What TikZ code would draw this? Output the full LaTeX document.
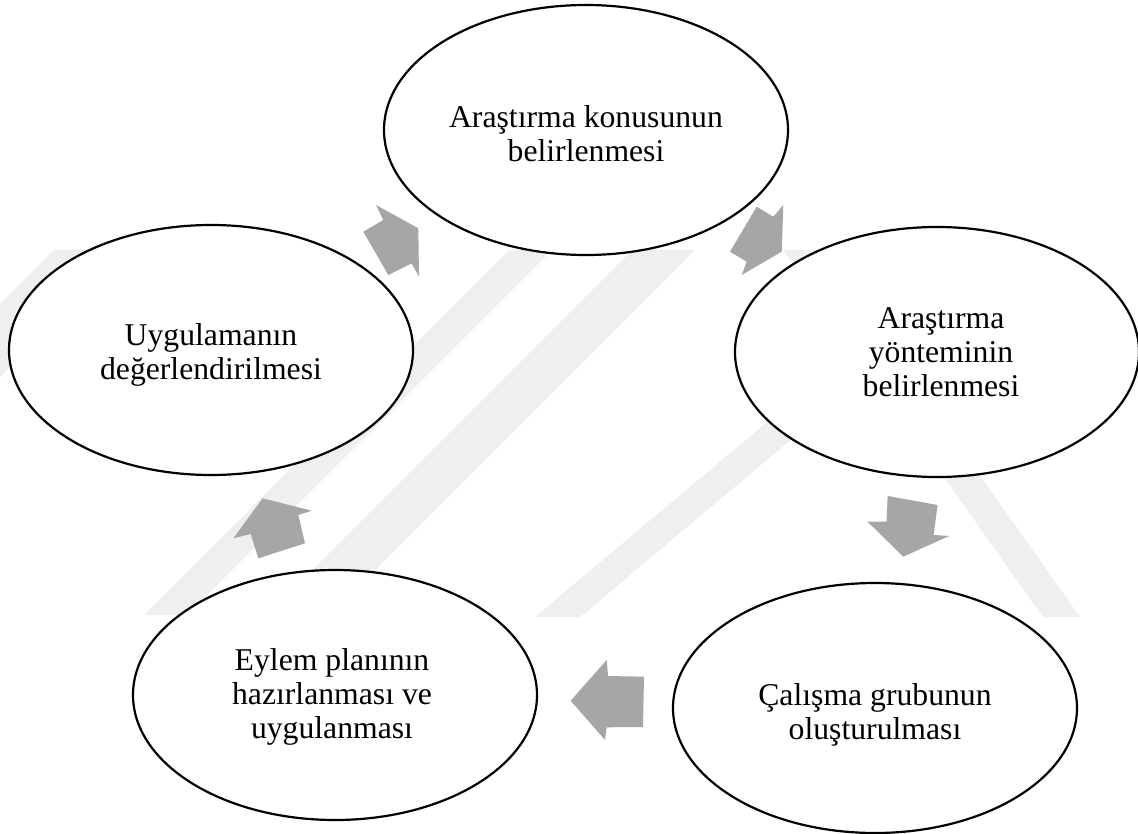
\documentclass[tikz,border=0pt]{standalone}
\usepackage{fontspec}
\setmainfont{Liberation Serif}
\usetikzlibrary{shapes.geometric}
\definecolor{arrowgray}{RGB}{166,166,166}
\definecolor{wmark}{RGB}{239,239,239}
\tikzset{
  ell/.style={ellipse, draw=black, line width=2.2pt, fill=white, minimum width=404pt, minimum height=250pt, inner sep=0pt},
  txt/.style={align=center, inner sep=0pt, font=\fontsize{31.7}{34}\selectfont},
  blockarrow/.style={fill=arrowgray, draw=none},
  wm/.style={fill=wmark, draw=none}
}
\begin{document}
\begin{tikzpicture}[x=1pt,y=-1pt]
\useasboundingbox (0,0) rectangle (1138,834);
\fill[white] (0,0) rectangle (1138,834);
% watermark (faint)
\begin{scope}
\clip (0,0) rectangle (1138,834);
\fill[wm] (54,250) -- (127,250) -- (-238,615) -- (-311,615) -- cycle;
\fill[wm] (509,250) -- (552,250) -- (187,615) -- (144,615) -- cycle;
\fill[wm] (632,250) -- (695,250) -- (330,615) -- (267,615) -- cycle;
\fill[wm] (972,250) -- (1017,250) -- (580,617) -- (535,617) -- cycle;
\fill[wm] (783,250) -- (820,250) -- (1080,617) -- (1043,617) -- cycle;
\end{scope}
% block arrows
\fill[blockarrow] (376,205) -- (383.3,220) -- (363.3,231.7) -- (388.3,275) -- (411.7,263.3) -- (419,276.7) -- (418.3,228.3) -- cycle;
\fill[blockarrow] (756.7,206.7) -- (773.3,216.7) -- (783.3,205) -- (781.7,251.7) -- (741.7,275) -- (746.7,261.7) -- (730,251.7) -- cycle;
\fill[blockarrow] (887.7,496) -- (937.6,505) -- (933.6,535) -- (949.1,536) -- (903.2,556.7) -- (867.6,521.7) -- (886.5,521.7) -- cycle;
\fill[blockarrow] (570.7,700.7) -- (606.7,660) -- (608,676) -- (644,676.7) -- (643,727) -- (606.7,727.3) -- (605,740) -- cycle;
\fill[blockarrow] (262.7,498.3) -- (311.7,510.7) -- (298.3,515) -- (305,543.3) -- (258.3,558.3) -- (250.7,534) -- (233.3,538.3) -- cycle;
% ellipses
\node[ell] (e1) at (586,130) {};
\node[ell] (e2) at (937,352) {};
\node[ell] (e3) at (875,708) {};
\node[ell] (e4) at (335,695) {};
\node[ell] (e5) at (211,350) {};
% texts
\node[txt] (t1) at (586,134) {Araştırma konusunun\\belirlenmesi};
\node[txt] (t2) at (941,352) {Araştırma\\yönteminin\\belirlenmesi};
\node[txt] (t3) at (875,715) {Çalışma grubunun\\oluşturulması};
\node[txt] (t4) at (332,697) {Eylem planının\\hazırlanması ve\\uygulanması};
\node[txt] (t5) at (211,355) {Uygulamanın\\değerlendirilmesi};
\end{tikzpicture}
\end{document}
